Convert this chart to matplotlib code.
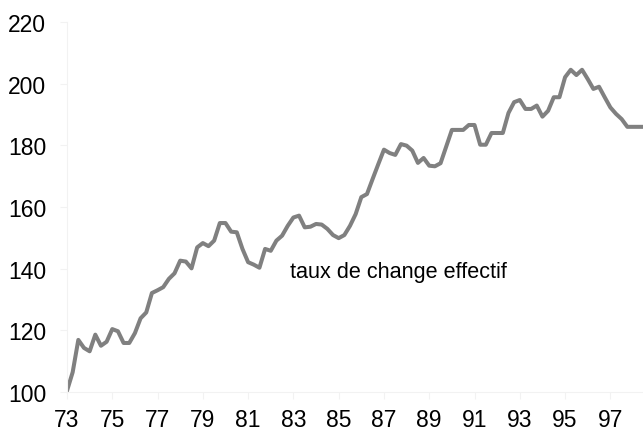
import matplotlib
matplotlib.use("Agg")
import matplotlib.pyplot as plt

# quarterly index, 1973Q1 onwards
taux = [100.4, 106.4, 116.9, 114.3, 113.2, 118.6, 115.0, 116.3, 120.4, 119.7,
        115.9, 115.9, 119.1, 123.9, 125.8, 132.1, 133.0, 134.0, 136.7, 138.5,
        142.6, 142.3, 140.1, 146.9, 148.3, 147.3, 149.1, 154.8, 154.8, 152.0,
        151.8, 146.4, 142.1, 141.3, 140.3, 146.4, 145.8, 149.1, 150.7, 153.9,
        156.6, 157.2, 153.4, 153.6, 154.5, 154.3, 152.9, 150.9, 149.9, 150.9,
        153.9, 157.7, 163.2, 164.2, 169.1, 173.9, 178.6, 177.5, 176.9, 180.4,
        179.9, 178.3, 174.3, 175.9, 173.4, 173.2, 174.2, 179.6, 185.0, 185.0,
        185.0, 186.6, 186.6, 180.2, 180.2, 184.0, 184.0, 184.0, 190.5, 194.0,
        194.7, 191.8, 191.8, 192.9, 189.3, 191.2, 195.6, 195.6, 202.1, 204.5,
        202.8, 204.5, 201.5, 198.3, 199.0, 195.6, 192.3, 190.2, 188.5, 186.0,
        186.0, 186.0, 186.0]
annees = ["73", "75", "77", "79", "81", "83", "85", "87", "89", "91", "93", "95", "97"]
yticks = [100, 120, 140, 160, 180, 200, 220]
etiquette = "taux de change effectif"

plt.rcParams['font.family'] = ['Liberation Sans', 'DejaVu Sans']

fig = plt.figure(figsize=(6.43, 4.35), dpi=100)
ax = fig.add_axes([67 / 643, 42 / 435, 576 / 643, 370 / 435])

ax.plot(range(len(taux)), taux, color="#808080", lw=2.9, solid_joinstyle="round")

ax.set_xlim(0, 576 / 5.66)
ax.set_ylim(100, 220)
ax.set_xticks([8 * i for i in range(len(annees))])
ax.set_xticklabels(annees)
ax.set_yticks(yticks)

ax.text(39.4, 139.2, etiquette, fontsize=15.6, ha="left", va="center")

faint = "#f2f2f2"
for s in ["top", "right"]:
    ax.spines[s].set_visible(False)
for s in ["left", "bottom"]:
    ax.spines[s].set_color(faint)
ax.tick_params(axis="both", colors=faint, labelcolor="black", labelsize=16.5, length=5)
ax.tick_params(axis="y", pad=10)
ax.tick_params(axis="x", pad=6.5)

fig.savefig("out.png", dpi=100)
